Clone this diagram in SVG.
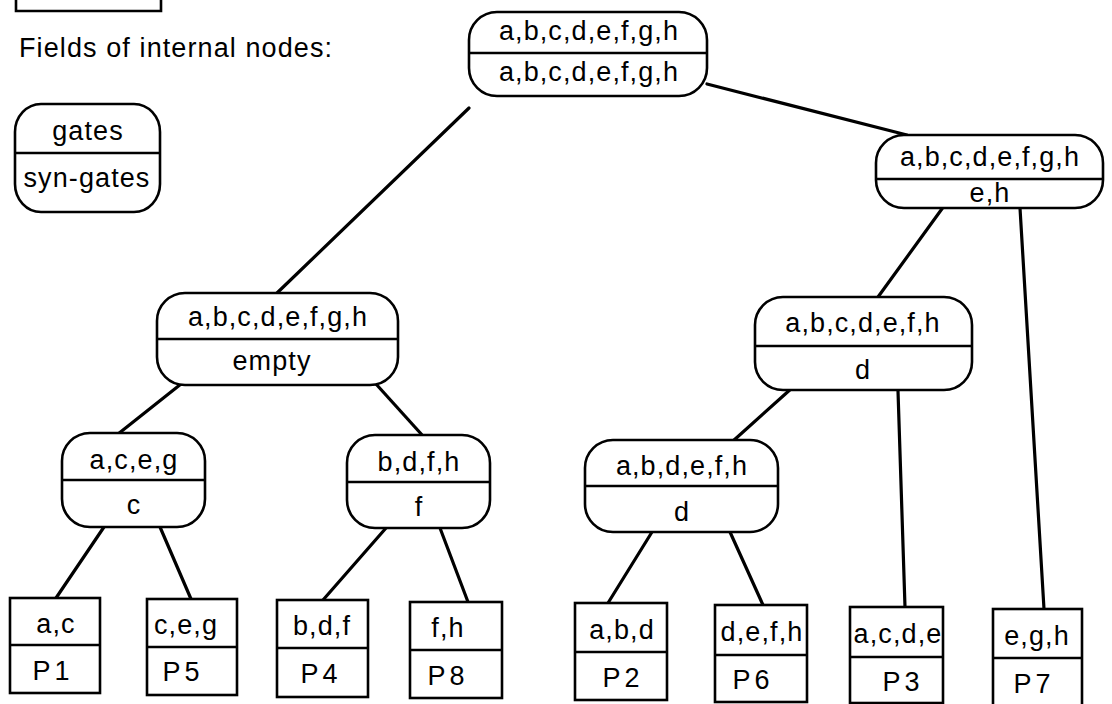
<svg xmlns="http://www.w3.org/2000/svg" width="1112" height="704" viewBox="0 0 1112 704">
<style>
.n{fill:#fff;stroke:#000;stroke-width:2.6}
.d{stroke:#000;stroke-width:2.4}
.e{stroke:#000;stroke-width:3.2;stroke-linecap:round}
text{font-family:"Liberation Sans",Arial,sans-serif;font-size:27px;letter-spacing:1.1px;fill:#000;text-anchor:middle}
.p{letter-spacing:4px}
.l{text-anchor:start;letter-spacing:1.1px}
</style>
<rect width="1112" height="704" fill="#fff"/>
<g id="corner"><path d="M16 0 V11 H161 V0" fill="none" stroke="#000" stroke-width="2.6"/></g>
<g id="legend">
<text class="l" x="19" y="57">Fields of internal nodes:</text>
<rect class="n" x="15" y="104" width="145" height="108" rx="26" ry="28"/>
<line class="d" x1="15" y1="153" x2="160" y2="153"/>
<text x="88" y="140">gates</text>
<text x="87" y="187">syn-gates</text>
</g>
<g id="connectors">
<line class="e" x1="469" y1="108" x2="277" y2="293"/>
<line class="e" x1="707" y1="84" x2="907" y2="135"/>
<line class="e" x1="944" y1="206" x2="878" y2="297"/>
<line class="e" x1="1020" y1="208" x2="1044" y2="609"/>
<line class="e" x1="792" y1="388" x2="733" y2="441"/>
<line class="e" x1="898" y1="391" x2="905" y2="607"/>
<line class="e" x1="181" y1="384" x2="118" y2="434"/>
<line class="e" x1="376" y1="384" x2="423" y2="436"/>
<line class="e" x1="104" y1="527" x2="56" y2="598"/>
<line class="e" x1="160" y1="527" x2="191" y2="599"/>
<line class="e" x1="386" y1="528" x2="323" y2="600"/>
<line class="e" x1="440" y1="528" x2="468" y2="602"/>
<line class="e" x1="652" y1="532" x2="608" y2="603"/>
<line class="e" x1="730" y1="532" x2="763" y2="605"/>
</g>
<g id="root">
<rect class="n" x="469" y="12" width="238" height="84" rx="28" ry="28"/>
<line class="d" x1="469" y1="53" x2="707" y2="53"/>
<text x="589" y="40">a,b,c,d,e,f,g,h</text>
<text x="589" y="81">a,b,c,d,e,f,g,h</text>
</g>
<g id="n-right1">
<rect class="n" x="876" y="135" width="227" height="73" rx="28" ry="28"/>
<line class="d" x1="876" y1="179" x2="1103" y2="179"/>
<text x="990" y="166">a,b,c,d,e,f,g,h</text>
<text x="990" y="202">e,h</text>
</g>
<g id="n-leftmid">
<rect class="n" x="157" y="293" width="241" height="92" rx="28" ry="28"/>
<line class="d" x1="157" y1="339" x2="398" y2="339"/>
<text x="278" y="326">a,b,c,d,e,f,g,h</text>
<text x="272" y="370">empty</text>
</g>
<g id="n-rightmid">
<rect class="n" x="755" y="297" width="217" height="93" rx="28" ry="28"/>
<line class="d" x1="755" y1="346" x2="972" y2="346"/>
<text x="863" y="332">a,b,c,d,e,f,h</text>
<text x="863" y="379">d</text>
</g>
<g id="n-aceg">
<rect class="n" x="62" y="433" width="143" height="94" rx="28" ry="28"/>
<line class="d" x1="62" y1="480" x2="205" y2="480"/>
<text x="134" y="469">a,c,e,g</text>
<text x="134" y="514">c</text>
</g>
<g id="n-bdfh">
<rect class="n" x="347" y="435" width="143" height="93" rx="28" ry="28"/>
<line class="d" x1="347" y1="482" x2="490" y2="482"/>
<text x="419" y="471">b,d,f,h</text>
<text x="419" y="516">f</text>
</g>
<g id="n-abdefh">
<rect class="n" x="585" y="440" width="193" height="92" rx="28" ry="28"/>
<line class="d" x1="585" y1="486" x2="778" y2="486"/>
<text x="682" y="475">a,b,d,e,f,h</text>
<text x="682" y="521">d</text>
</g>
<g id="leaf-P1">
<rect class="n" x="10" y="598" width="90" height="95"/>
<line class="d" x1="10" y1="645" x2="100" y2="645"/>
<text x="56" y="633">a,c</text>
<text class="p" x="53" y="680">P1</text>
</g>
<g id="leaf-P5">
<rect class="n" x="147" y="599" width="90" height="96"/>
<line class="d" x1="147" y1="647" x2="237" y2="647"/>
<text x="186" y="634">c,e,g</text>
<text class="p" x="183" y="681">P5</text>
</g>
<g id="leaf-P4">
<rect class="n" x="277" y="600" width="91" height="97"/>
<line class="d" x1="277" y1="648" x2="368" y2="648"/>
<text x="322" y="635">b,d,f</text>
<text class="p" x="321" y="683">P4</text>
</g>
<g id="leaf-P8">
<rect class="n" x="410" y="602" width="92" height="96"/>
<line class="d" x1="410" y1="650" x2="502" y2="650"/>
<text x="448" y="637">f,h</text>
<text class="p" x="448" y="685">P8</text>
</g>
<g id="leaf-P2">
<rect class="n" x="575" y="603" width="92" height="97"/>
<line class="d" x1="575" y1="652" x2="667" y2="652"/>
<text x="622" y="639">a,b,d</text>
<text class="p" x="623" y="687">P2</text>
</g>
<g id="leaf-P6">
<rect class="n" x="715" y="605" width="92" height="97"/>
<line class="d" x1="715" y1="655" x2="807" y2="655"/>
<text x="762" y="641">d,e,f,h</text>
<text class="p" x="753" y="689">P6</text>
</g>
<g id="leaf-P3">
<rect class="n" x="850" y="607" width="93" height="96"/>
<line class="d" x1="850" y1="657" x2="943" y2="657"/>
<text x="898" y="643">a,c,d,e</text>
<text class="p" x="903" y="691">P3</text>
</g>
<g id="leaf-P7">
<rect class="n" x="993" y="609" width="89" height="100"/>
<line class="d" x1="993" y1="658" x2="1082" y2="658"/>
<text x="1037" y="645">e,g,h</text>
<text class="p" x="1034" y="693">P7</text>
</g>
</svg>
